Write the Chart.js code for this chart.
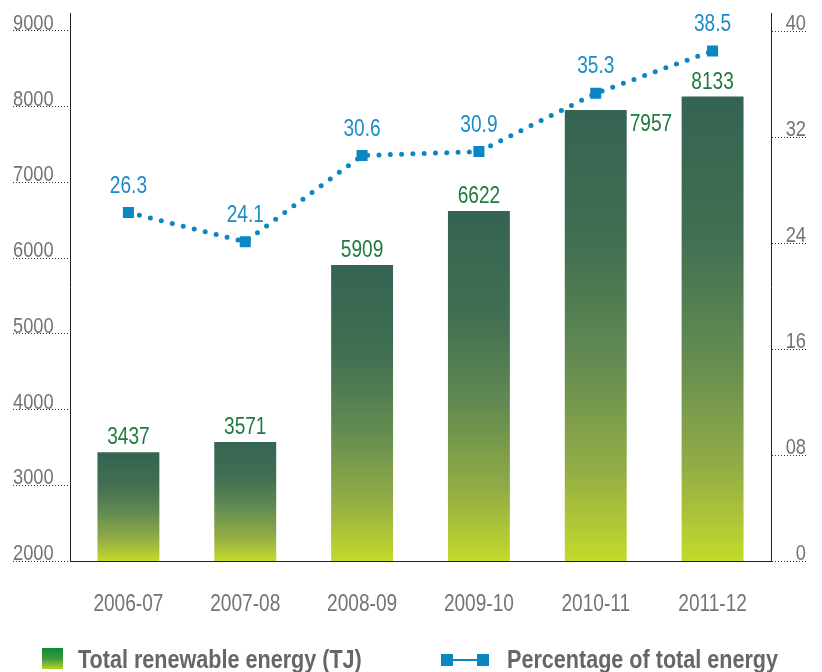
<!DOCTYPE html>
<html>
<head>
<meta charset="utf-8">
<title>Total renewable energy</title>
<script src="https://cdn.jsdelivr.net/npm/chart.js@4.4.1/dist/chart.umd.min.js"></script>
<style>
  html, body { margin: 0; padding: 0; background: #fff; }
  #wrap { width: 822px; height: 672px; }
</style>
</head>
<body>
<div id="wrap"><canvas id="energyChart" width="822" height="672"></canvas></div>
<script>
const years = ["2006-07", "2007-08", "2008-09", "2009-10", "2010-11", "2011-12"];
const energyTJ = [3437, 3571, 5909, 6622, 7957, 8133];
const pctTotal = [26.3, 24.1, 30.6, 30.9, 35.3, 38.5];
const leftTicks = [2000, 3000, 4000, 5000, 6000, 7000, 8000, 9000];
const rightTicks = [0, 8, 16, 24, 32, 40];
const rightTickLabels = ["0", "08", "16", "24", "32", "40"];

const FONT = "'Liberation Sans', Arial, sans-serif";
const NARROW = 0.83; // the original uses a condensed face, squeeze a regular one
const GREEN_TEXT = "#1e7a3e";
const BLUE = "#0a86c3";
const GREY = "#737373";

// axis lines run a little past the top tick, so the scale max sits above it
const LEFT_MAX = 9237;
const RIGHT_MAX = 41.36;

function barGradient(ctx) {
  const chart = ctx.chart;
  if (!chart.chartArea || ctx.type !== "data") return "#356652";
  const y = chart.scales.y;
  const top = y.getPixelForValue(ctx.raw);
  const bottom = y.getPixelForValue(y.min);
  const g = chart.ctx.createLinearGradient(0, top, 0, bottom);
  g.addColorStop(0, "#346452");
  g.addColorStop(0.3, "#416f52");
  g.addColorStop(0.55, "#628a51");
  g.addColorStop(0.8, "#93ad45");
  g.addColorStop(1, "#c4da2b");
  return g;
}

function fixWidth(w) {
  return scale => {
    scale.width = w;
    scale.paddingTop = 0;
    scale.paddingBottom = 0;
  };
}

// condensed text: regular face squeezed horizontally
function narrowText(c, txt, x, y, align) {
  c.save();
  c.translate(x, y);
  c.scale(NARROW, 1);
  c.textAlign = align;
  c.fillText(txt, 0, 0);
  c.restore();
}

// axis tick labels, sitting on top of the dotted tick lines
const axisLabels = {
  id: "axisLabels",
  afterDraw(chart) {
    const c = chart.ctx;
    const { x, y, y1 } = chart.scales;
    c.save();
    c.textBaseline = "alphabetic";
    c.fillStyle = GREY;
    c.font = "22px " + FONT;
    leftTicks.forEach(v => narrowText(c, String(v), 13, y.getPixelForValue(v) - 1, "left"));
    rightTicks.forEach((v, i) => narrowText(c, rightTickLabels[i], 806, y1.getPixelForValue(v) - 1, "right"));
    c.font = "23px " + FONT;
    years.forEach((lab, i) => narrowText(c, lab, x.getPixelForValue(i), 611, "center"));
    c.restore();
  }
};

// value labels above bars and points
const valueLabels = {
  id: "valueLabels",
  afterDatasetsDraw(chart) {
    const c = chart.ctx;
    c.save();
    c.font = "23px " + FONT;
    c.textBaseline = "alphabetic";

    const bars = chart.getDatasetMeta(0).data;
    c.fillStyle = GREEN_TEXT;
    bars.forEach((bar, i) => {
      const txt = String(energyTJ[i]);
      if (i === 4) {
        // sits beside the bar, the marker is in the way above it
        narrowText(c, txt, bar.x + bar.width / 2 + 3, bar.y + 21, "left");
      } else {
        narrowText(c, txt, bar.x, bar.y - 8, "center");
      }
    });

    const pts = chart.getDatasetMeta(1).data;
    c.fillStyle = "#1b8cc9";
    pts.forEach((p, i) => narrowText(c, pctTotal[i].toFixed(1), p.x, p.y - 20, "center"));
    c.restore();
  }
};

// legend at the bottom edge, partly cut off like the original
const bottomLegend = {
  id: "bottomLegend",
  afterDraw(chart) {
    const c = chart.ctx;
    const ds = chart.data.datasets;
    c.save();
    const g = c.createLinearGradient(0, 648, 0, 669);
    g.addColorStop(0, "#0a8a3c");
    g.addColorStop(0.5, "#3d9a38");
    g.addColorStop(1, "#b8d22e");
    c.fillStyle = g;
    c.fillRect(42, 648, 21, 21);

    c.strokeStyle = BLUE;
    c.lineWidth = 2;
    c.beginPath();
    c.moveTo(447, 660);
    c.lineTo(483, 660);
    c.stroke();
    c.fillStyle = BLUE;
    c.fillRect(441, 654, 12, 12);
    c.fillRect(477, 654, 12, 12);

    c.font = "bold 26px " + FONT;
    c.fillStyle = "#666666";
    c.textBaseline = "alphabetic";
    narrowText(c, ds[0].label, 78, 668, "left");
    narrowText(c, ds[1].label, 507, 668, "left");
    c.restore();
  }
};

const dotted = [1, 2];

new Chart(document.getElementById("energyChart"), {
  type: "bar",
  data: {
    labels: years,
    datasets: [
      {
        type: "bar",
        label: "Total renewable energy (TJ)",
        data: energyTJ,
        yAxisID: "y",
        backgroundColor: barGradient,
        barPercentage: 0.53,
        categoryPercentage: 1,
        order: 2
      },
      {
        type: "line",
        label: "Percentage of total energy",
        data: pctTotal,
        yAxisID: "y1",
        borderColor: BLUE,
        borderWidth: 5,
        borderDash: [0, 11.3],
        borderCapStyle: "round",
        pointStyle: "rect",
        pointRadius: 7.8,
        pointBorderWidth: 0,
        pointBackgroundColor: BLUE,
        tension: 0,
        fill: false,
        order: 1
      }
    ]
  },
  options: {
    responsive: false,
    animation: false,
    layout: { padding: { left: 13, right: 16, top: 13, bottom: 0 } },
    plugins: {
      legend: { display: false },
      tooltip: { enabled: false }
    },
    scales: {
      x: {
        grid: { display: false, drawTicks: false },
        border: { display: true, color: "#222", dash: dotted, width: 1 },
        ticks: { display: false },
        afterFit: scale => {
          scale.height = 111;
          scale.paddingLeft = 0;
          scale.paddingRight = 0;
        }
      },
      y: {
        position: "left",
        min: 2000,
        max: LEFT_MAX,
        afterBuildTicks: scale => { scale.ticks = leftTicks.map(v => ({ value: v })); },
        grid: {
          drawOnChartArea: false,
          drawTicks: true,
          tickLength: 57,
          tickColor: "#333",
          tickBorderDash: dotted,
          tickWidth: 1
        },
        border: { display: true, color: "#222", dash: dotted, width: 1 },
        ticks: { display: false },
        afterFit: fixWidth(57)
      },
      y1: {
        position: "right",
        min: 0,
        max: RIGHT_MAX,
        afterBuildTicks: scale => { scale.ticks = rightTicks.map(v => ({ value: v })); },
        grid: {
          drawOnChartArea: false,
          drawTicks: true,
          tickLength: 37,
          tickColor: "#333",
          tickBorderDash: dotted,
          tickWidth: 1
        },
        border: { display: true, color: "#222", dash: dotted, width: 1 },
        ticks: { display: false },
        afterFit: fixWidth(35)
      }
    }
  },
  plugins: [valueLabels, axisLabels, bottomLegend]
});
</script>
</body>
</html>
